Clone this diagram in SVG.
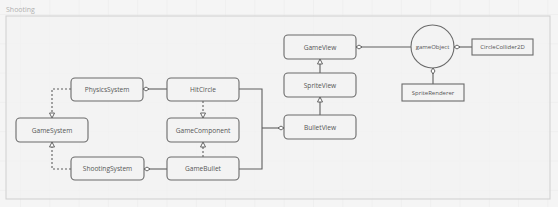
<svg xmlns="http://www.w3.org/2000/svg" width="558" height="207" viewBox="0 0 558 207">
<style>
.node rect,.node circle{fill:#f3f3f3;stroke:#6a6a6a;stroke-width:1.1}
.node text{font-family:"Open Sans",sans-serif;font-size:6.6px;fill:#555;text-anchor:middle;dominant-baseline:central}
.c{fill:none;stroke:#5e5e5e;stroke-width:1.1}
.d{stroke-dasharray:2 2}
</style>
<defs>
<pattern id="grid" width="29.3" height="29.3" patternUnits="userSpaceOnUse" x="20" y="14">
<path d="M0 0V29.3M0 0H29.3" fill="none" stroke="#e6e6e6" stroke-width="0.8"/>
</pattern>
<marker id="dia" markerWidth="8" markerHeight="6" refX="7" refY="3" orient="auto" markerUnits="userSpaceOnUse">
<path d="M1 3L4 1L7 3L4 5Z" fill="#fff" stroke="#555" stroke-width="0.9" stroke-dasharray="none"/>
</marker>
<marker id="tri" markerWidth="7" markerHeight="7" refX="6" refY="3.5" orient="auto" markerUnits="userSpaceOnUse">
<path d="M1 1L6 3.5L1 6Z" fill="#fff" stroke="#555" stroke-width="0.9" stroke-dasharray="none"/>
</marker>
</defs>
<rect width="558" height="207" fill="#f5f5f5"/>
<rect width="558" height="207" fill="url(#grid)"/>
<text x="6" y="9" font-family="Open Sans,sans-serif" font-size="7px" fill="#b0b0b0" dominant-baseline="central">Shooting</text>
<rect x="6" y="16" width="544" height="183" fill="#f2f2f2" fill-opacity="0.7" stroke="#cfcfcf" stroke-width="1"/>
<g id="connectors">
<path class="c d" d="M71 89H52V118" marker-end="url(#tri)"/>
<path class="c d" d="M71 169H52V142" marker-end="url(#tri)"/>
<path class="c d" d="M203 101V118" marker-end="url(#tri)"/>
<path class="c d" d="M203 157V142" marker-end="url(#tri)"/>
<path class="c" d="M167 89H143" marker-end="url(#dia)"/>
<path class="c" d="M167 169H144" marker-end="url(#dia)"/>
<path class="c" d="M239 89H262V169H239"/>
<path class="c" d="M262 128H284" marker-end="url(#dia)"/>
<path class="c" d="M320 73V59" marker-end="url(#tri)"/>
<path class="c" d="M320 115V97" marker-end="url(#tri)"/>
<path class="c" d="M411 47H356" marker-end="url(#dia)"/>
<path class="c" d="M472 47H454" marker-end="url(#dia)"/>
<path class="c" d="M433 84V68" marker-end="url(#dia)"/>
</g>
<g id="PhysicsSystem" class="node"><rect x="71" y="78" width="72" height="23" rx="4"/><text x="107" y="89.5">PhysicsSystem</text></g>
<g id="HitCircle" class="node"><rect x="167" y="78" width="72" height="23" rx="4"/><text x="203" y="89.5">HitCircle</text></g>
<g id="GameSystem" class="node"><rect x="16" y="118" width="72" height="24" rx="4"/><text x="52" y="130">GameSystem</text></g>
<g id="GameComponent" class="node"><rect x="167" y="118" width="72" height="24" rx="4"/><text x="203" y="130">GameComponent</text></g>
<g id="ShootingSystem" class="node"><rect x="71" y="157" width="73" height="23" rx="4"/><text x="107.5" y="168.5">ShootingSystem</text></g>
<g id="GameBullet" class="node"><rect x="167" y="157" width="72" height="23" rx="4"/><text x="203" y="168.5">GameBullet</text></g>
<g id="GameView" class="node"><rect x="284" y="35" width="72" height="24" rx="4"/><text x="320" y="47">GameView</text></g>
<g id="SpriteView" class="node"><rect x="284" y="73" width="72" height="24" rx="4"/><text x="320" y="85">SpriteView</text></g>
<g id="BulletView" class="node"><rect x="284" y="115" width="72" height="24" rx="4"/><text x="320" y="127">BulletView</text></g>
<g id="gameObject" class="node"><circle cx="432.5" cy="46.5" r="21.5"/><text x="432.5" y="46.5" style="font-size:6px">gameObject</text></g>
<g id="CircleCollider2D" class="node"><rect x="472" y="39" width="61" height="16"/><text x="502.5" y="47" style="font-size:6px">CircleCollider2D</text></g>
<g id="SpriteRenderer" class="node"><rect x="402" y="84" width="62" height="17"/><text x="433" y="92.5" style="font-size:6px">SpriteRenderer</text></g>
</svg>
